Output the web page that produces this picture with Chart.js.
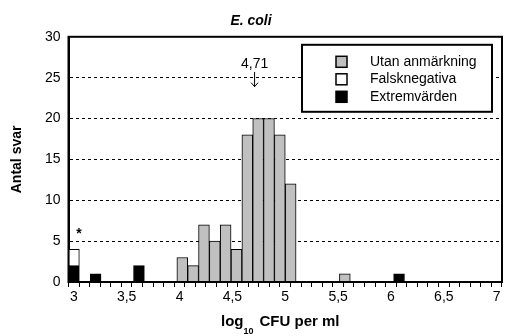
<!DOCTYPE html>
<html>
<head>
<meta charset="utf-8">
<script src="https://cdn.jsdelivr.net/npm/chart.js@4.4.0/dist/chart.umd.min.js"></script>
<style>
    html, body { margin: 0; padding: 0; background: #fff; }
    #wrap { width: 507px; height: 336px; }
</style>
</head>
<body>
<div id="wrap"><canvas id="ecoliChart"></canvas></div>
<script>
//! Data (bins of 0.1 log10 CFU/ml, starting at 3.0)
const bins = ['3.0','3.1','3.2','3.3','3.4','3.5','3.6','3.7','3.8','3.9',
              '4.0','4.1','4.2','4.3','4.4','4.5','4.6','4.7','4.8','4.9',
              '5.0','5.1','5.2','5.3','5.4','5.5','5.6','5.7','5.8','5.9',
              '6.0','6.1','6.2','6.3','6.4','6.5','6.6','6.7','6.8','6.9'];
const utan   = [0,0,0,0,0,0,0,0,0,0, 3,2,7,5,7,4,18,20,20,18, 12,0,0,0,0,1,0,0,0,0, 0,0,0,0,0,0,0,0,0,0];
const falsk  = [2,0,0,0,0,0,0,0,0,0, 0,0,0,0,0,0,0,0,0,0, 0,0,0,0,0,0,0,0,0,0, 0,0,0,0,0,0,0,0,0,0];
const extrem = [2,0,1,0,0,0,2,0,0,0, 0,0,0,0,0,0,0,0,0,0, 0,0,0,0,0,0,0,0,0,0, 1,0,0,0,0,0,0,0,0,0];
const xTickValues = [3, 3.5, 4, 4.5, 5, 5.5, 6, 6.5, 7];
const xTickLabels = ['3', '3,5', '4', '4,5', '5', '5,5', '6', '6,5', '7'];
const median = 4.71;
const medianLabel = '4,71';

const FONT = '"Liberation Sans", Arial, sans-serif';
const GRAY = '#c0c0c0';

//! Extra drawing: frame, legend, median arrow, asterisk, x title
const extras = {
    id: 'extras',
    afterDraw(chart) {
        const { ctx, chartArea: a, scales } = chart;
        const xs = scales.x2, ys = scales.y;
        ctx.save();

        // frame
        ctx.strokeStyle = '#000';
        ctx.lineWidth = 2;
        ctx.strokeRect(a.left, a.top, a.right - a.left, a.bottom - a.top);

        // legend
        const lx = a.right - 200, ly = a.top + 8, lw = 190, lh = 67;
        ctx.fillStyle = '#fff';
        ctx.fillRect(lx, ly, lw, lh);
        ctx.strokeRect(lx, ly, lw, lh);
        const items = [chart.data.datasets[2], chart.data.datasets[1], chart.data.datasets[0]];
        ctx.font = '14px ' + FONT;
        ctx.textBaseline = 'middle';
        ctx.lineWidth = 1.5;
        items.forEach((ds, i) => {
            const cy = ly + 17 + i * 17.5;
            ctx.fillStyle = ds.backgroundColor;
            ctx.fillRect(lx + 34, cy - 5.5, 11, 11);
            ctx.strokeRect(lx + 34, cy - 5.5, 11, 11);
            ctx.fillStyle = '#000';
            ctx.fillText(ds.label, lx + 68, cy);
        });

        // median annotation
        const mx = xs.getPixelForValue(median);
        ctx.textAlign = 'center';
        ctx.textBaseline = 'alphabetic';
        ctx.fillText(medianLabel, mx, ys.getPixelForValue(26.8) + 5);
        const t = ys.getPixelForValue(25.7), b = ys.getPixelForValue(23.9);
        ctx.lineWidth = 1;
        ctx.beginPath();
        ctx.moveTo(mx, t);
        ctx.lineTo(mx, b);
        ctx.moveTo(mx - 3.5, b - 4);
        ctx.lineTo(mx, b);
        ctx.lineTo(mx + 3.5, b - 4);
        ctx.stroke();

        // asterisk above the false negatives
        ctx.font = 'bold 14px ' + FONT;
        ctx.fillText('*', xs.getPixelForValue(3.05), ys.getPixelForValue(falsk[0] + extrem[0]) - 11);

        // x axis title with subscript
        ctx.textAlign = 'left';
        ctx.font = 'bold 15px ' + FONT;
        let tx = 221;
        const ty = 326;
        ctx.fillText('log', tx, ty);
        tx += ctx.measureText('log').width;
        ctx.font = 'bold 9px ' + FONT;
        ctx.fillText('10', tx, ty + 8);
        tx += ctx.measureText('10').width + 6;
        ctx.font = 'bold 15px ' + FONT;
        ctx.fillText('CFU per ml', tx, ty);

        ctx.restore();
    }
};

const ctx = document.getElementById('ecoliChart');

new Chart(ctx, {
    type: 'bar',
    data: {
        labels: bins,
        datasets: [
            {
                label: 'Extremvärden',
                data: extrem,
                backgroundColor: '#000',
                borderColor: '#000',
                borderWidth: 1,
            },
            {
                label: 'Falsknegativa',
                data: falsk,
                backgroundColor: '#fff',
                borderColor: '#000',
                borderWidth: 1,
            },
            {
                label: 'Utan anmärkning',
                data: utan,
                backgroundColor: GRAY,
                borderColor: '#000',
                borderWidth: 1,
            },
        ]
    },
    options: {
        responsive: true,
        maintainAspectRatio: false,
        animation: false,
        layout: { padding: { left: 0, right: 5, top: 0, bottom: 0 } },
        datasets: {
            bar: { categoryPercentage: 1, barPercentage: 1 }
        },
        plugins: {
            legend: { display: false },
            tooltip: { enabled: false },
            title: {
                display: true,
                text: 'E. coli',
                color: '#000',
                font: { family: FONT, size: 14, weight: 'bold', style: 'italic' },
                padding: { top: 13, bottom: 7 },
            },
        },
        scales: {
            x: {
                display: false,
                stacked: true,
            },
            x2: {
                type: 'linear',
                position: 'bottom',
                min: 3,
                max: 7,
                afterFit: (s) => { s.height = 54; },
                grid: {
                    drawOnChartArea: false,
                    drawTicks: true,
                    tickLength: 5,
                    tickColor: '#000',
                    tickWidth: 1,
                },
                border: { color: '#000', width: 2 },
                ticks: {
                    stepSize: 0.1,
                    autoSkip: false,
                    maxRotation: 0,
                    padding: 2,
                    color: '#000',
                    font: { family: FONT, size: 14 },
                    callback: (v) => {
                        const i = xTickValues.findIndex(t => Math.abs(t - v) < 1e-6);
                        return i >= 0 ? xTickLabels[i] : '';
                    },
                },
            },
            y: {
                stacked: true,
                min: 0,
                max: 30,
                afterFit: (s) => { s.width = 68.5; },
                grid: {
                    color: (c) => (c.tick.value === 0 || c.tick.value === 30) ? 'rgba(0,0,0,0)' : '#000',
                    lineWidth: 1,
                    drawTicks: false,
                },
                border: { color: '#000', width: 2, dash: [3, 3] },
                ticks: {
                    stepSize: 5,
                    padding: 8,
                    color: '#000',
                    font: { family: FONT, size: 14 },
                },
                title: {
                    display: true,
                    text: 'Antal svar',
                    color: '#000',
                    font: { family: FONT, size: 14, weight: 'bold' },
                    padding: { top: 9, bottom: 0 },
                },
            },
        },
    },
    plugins: [extras],
});
</script>
</body>
</html>
